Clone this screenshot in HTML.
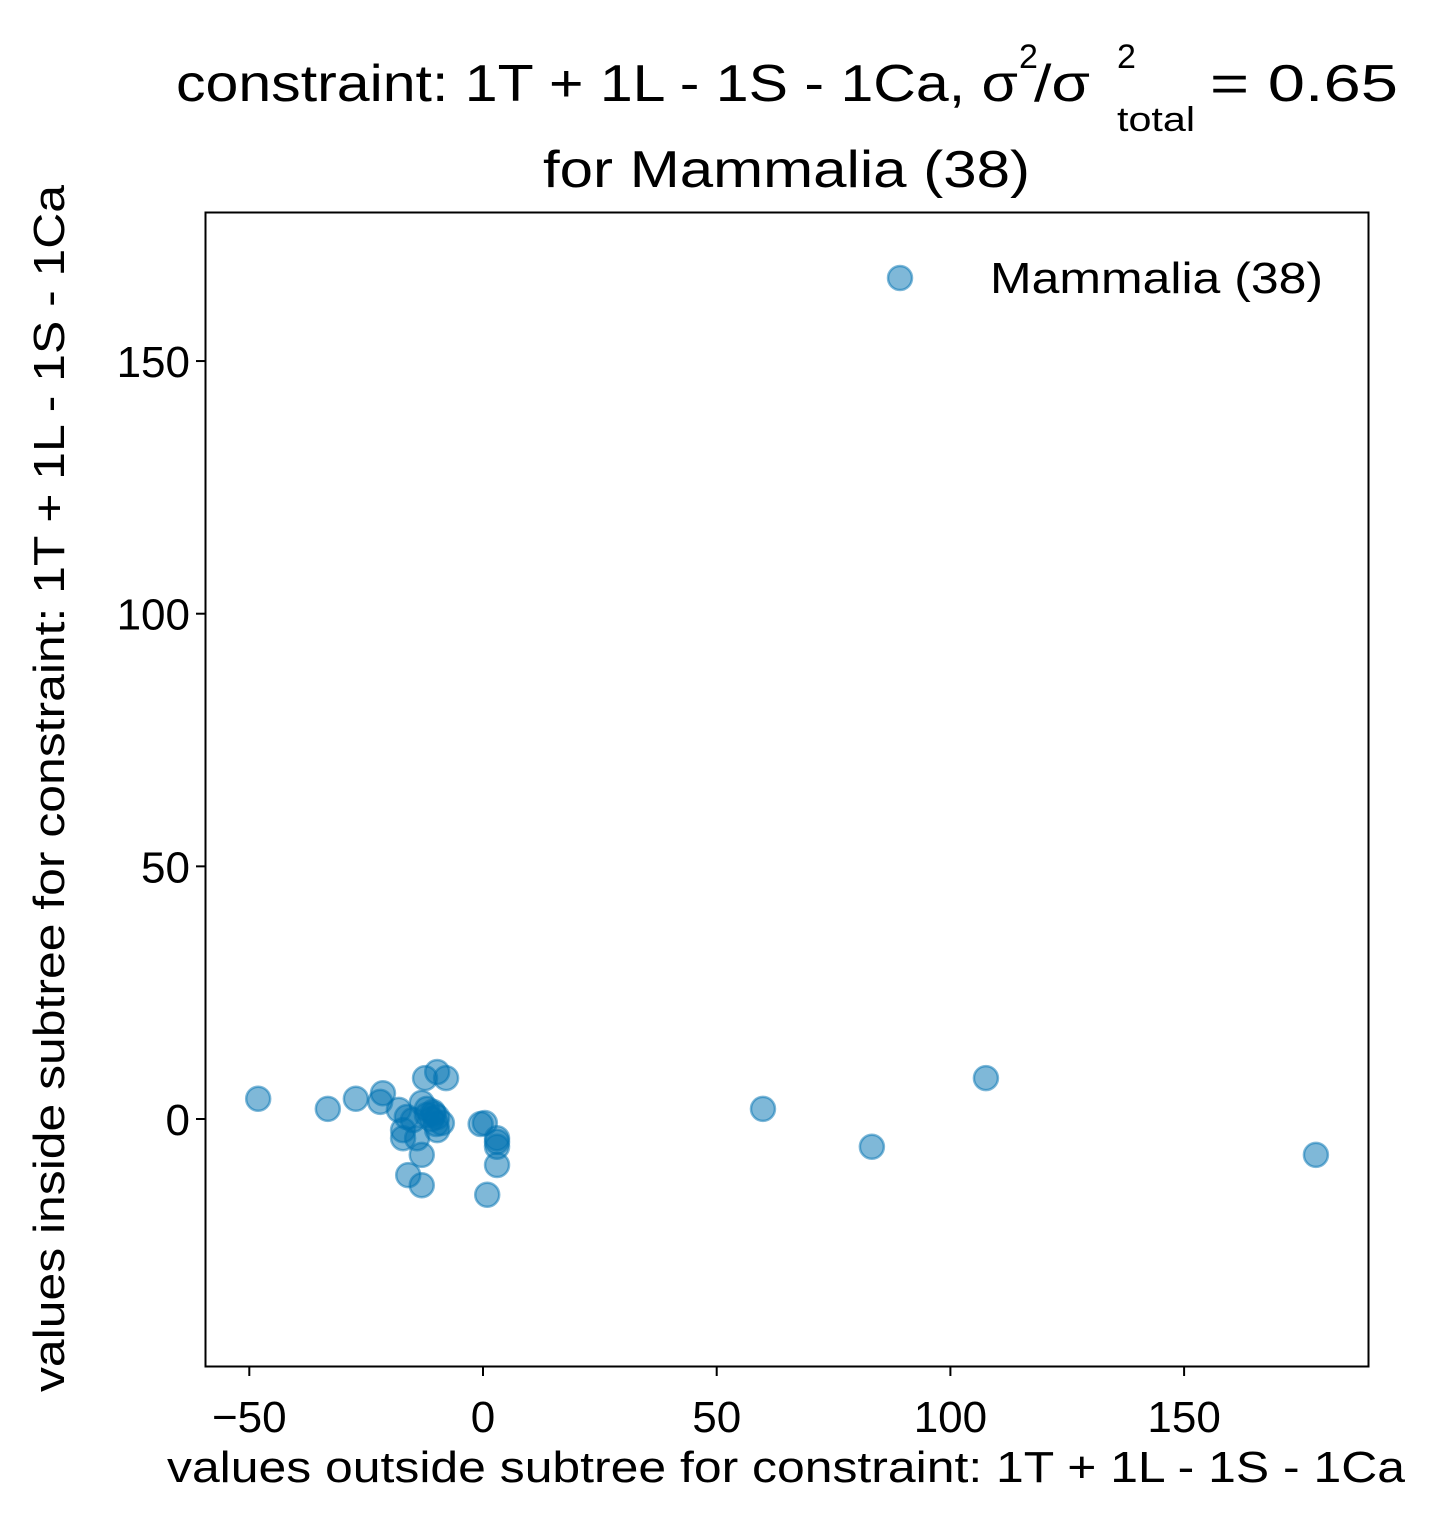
<!DOCTYPE html>
<html><head><meta charset="utf-8"><style>
body{margin:0;background:#fff}
svg{display:block;font-family:"Liberation Sans",Arial,sans-serif}
</style></head><body>
<svg id="chart" width="1429" height="1535" viewBox="0 0 1429 1535">
<g fill="#000">
<text x="176" y="101" font-size="52" textLength="842" lengthAdjust="spacingAndGlyphs">constraint: 1T + 1L - 1S - 1Ca, σ</text>
<text x="1019" y="68" font-size="34">2</text>
<text x="1034" y="101" font-size="52" textLength="56" lengthAdjust="spacingAndGlyphs">/σ</text>
<text x="1117" y="68" font-size="34">2</text>
<text x="1117" y="131" font-size="34" textLength="78" lengthAdjust="spacingAndGlyphs">total</text>
<text x="1210" y="101" font-size="52" textLength="188" lengthAdjust="spacingAndGlyphs">=  0.65</text>
<text x="543" y="187" font-size="52" textLength="487" lengthAdjust="spacingAndGlyphs">for Mammalia (38)</text>
</g>
<g id="marks"></g>
<rect x="205.5" y="212.5" width="1163" height="1154" fill="none" stroke="#000" stroke-width="2"/>
<g id="axes"></g>
<text x="167" y="1482" font-size="44" textLength="1238" lengthAdjust="spacingAndGlyphs">values outside subtree for constraint: 1T + 1L - 1S - 1Ca</text>
<text transform="translate(64,1392) rotate(-90)" font-size="44" textLength="1207" lengthAdjust="spacingAndGlyphs">values inside subtree for constraint: 1T + 1L - 1S - 1Ca</text>
<g>
<circle cx="900" cy="278" r="12" fill="rgba(0,114,178,0.5)" stroke="rgba(0,114,178,0.5)" stroke-width="2.5"/>
<text x="990" y="293" font-size="44" textLength="333" lengthAdjust="spacingAndGlyphs">Mammalia (38)</text>
</g>
</svg>
<script>
const xVals=[-48.1,-33.2,-27.2,-21.4,-22.0,-12.4,-9.8,-7.9,-18.0,-16.3,-13.1,-10.7,-9.8,-8.8,-17.1,-17.1,-14.1,-9.8,-13.1,-16.0,-13.1,0.4,3.0,3.0,3.0,0.9,-15.0,-12.0,-11.0,-10.5,3.0,-0.5,-12.0,-10.0,59.9,83.2,107.6,178.2];
const yVals=[4.0,2.0,4.0,5.1,3.4,8.1,9.3,8.1,1.8,0.4,3.2,1.4,0.4,-0.8,-2.2,-3.8,-3.8,-2.2,-7.1,-11.1,-13.1,-0.8,-3.8,-5.5,-9.1,-15.0,-0.2,0.8,0.0,1.0,-4.5,-1.0,2.0,-1.0,2.0,-5.5,8.1,-7.1];
const xTicks=[-50,0,50,100,150];
const yTicks=[0,50,100,150];
const xTickLabels=["−50","0","50","100","150"];
const yTickLabels=["0","50","100","150"];
const X=v=>483+v*4.674, Y=v=>1119-v*5.053;
const NS="http://www.w3.org/2000/svg";
const marks=document.getElementById('marks'), axes=document.getElementById('axes');
xVals.forEach((xv,i)=>{const c=document.createElementNS(NS,'circle');
c.setAttribute('cx',X(xv));c.setAttribute('cy',Y(yVals[i]));c.setAttribute('r',12);
c.setAttribute('fill','rgba(0,114,178,0.5)');c.setAttribute('stroke','rgba(0,114,178,0.5)');c.setAttribute('stroke-width','2.5');


marks.appendChild(c);});
xTicks.forEach((t,i)=>{const l=document.createElementNS(NS,'line');
l.setAttribute('x1',X(t));l.setAttribute('x2',X(t));l.setAttribute('y1',1367);l.setAttribute('y2',1376);l.setAttribute('stroke','#000');l.setAttribute('stroke-width','2');


axes.appendChild(l);
const tx=document.createElementNS(NS,'text');tx.setAttribute('x',X(t));tx.setAttribute('y',1432);tx.setAttribute('font-size','44');tx.setAttribute('text-anchor','middle');tx.textContent=xTickLabels[i];


axes.appendChild(tx);});
yTicks.forEach((t,i)=>{const l=document.createElementNS(NS,'line');
l.setAttribute('x1',196);l.setAttribute('x2',205);l.setAttribute('y1',Y(t));l.setAttribute('y2',Y(t));l.setAttribute('stroke','#000');l.setAttribute('stroke-width','2');


axes.appendChild(l);
const tx=document.createElementNS(NS,'text');tx.setAttribute('x',190);tx.setAttribute('y',Y(t)+16);tx.setAttribute('font-size','44');tx.setAttribute('text-anchor','end');tx.textContent=yTickLabels[i];


axes.appendChild(tx);});
</script>
</body></html>
